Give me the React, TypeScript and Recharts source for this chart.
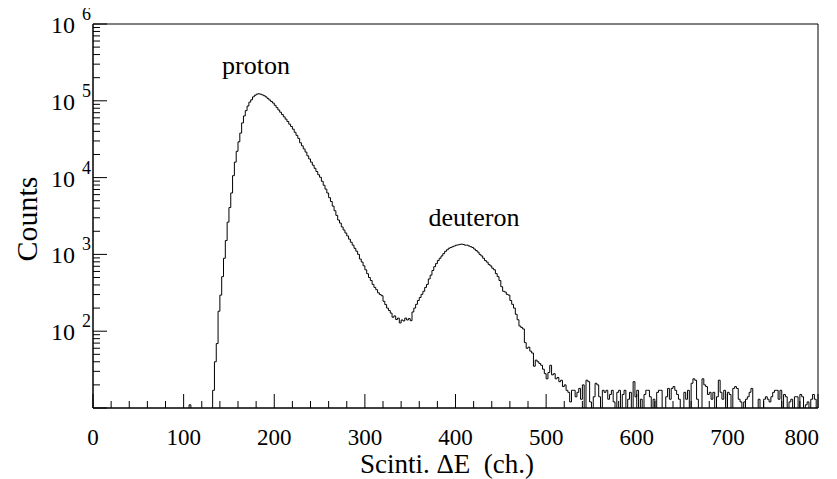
import { LineChart, Line, XAxis, YAxis, ReferenceArea } from "recharts";

const FONT = "'Liberation Serif', 'DejaVu Serif', 'Times New Roman', serif";

// histogram counts, 2 channels per bin; each list starts at its own channel
const BIN_WIDTH = 2;

const belowProtonStart = 100;
const belowProton = [0, 0, 0, 11, 0, 0, 0, 0, 0, 0, 0, 0, 0, 0, 0, 0];

const protonRiseStart = 132;
const protonRise = [
  17, 40, 69, 182, 295, 513, 891, 1514, 2630, 4074,
  6310, 10600, 15900, 22000, 29200, 38000, 51500, 63500, 74500, 85500,
  96000, 103000, 112500, 118000, 122000,
];

const protonFallStart = 182;
const protonFall = [
  123500, 122000, 119500, 116500, 112500, 107500, 102500, 98000, 93500, 87300,
  81500, 76000, 71000, 66200, 61800, 57700, 53800, 49600, 46300, 42700,
  38900, 35500, 32400, 28400, 25900, 23600, 21500, 19200, 17500, 15900,
  14500, 13200, 12000, 10900, 10100, 8950, 7950, 7080, 6300, 5480,
  4880, 4250, 3700, 3220, 2800, 2560, 2280, 2080, 1900, 1740,
  1580, 1440, 1320, 1200, 1100,
];

const valleyStart = 292;
const valley = [
  1000, 870, 795, 710, 630, 560, 500, 457, 407, 372,
  347, 316, 300, 290, 245, 222, 200, 186, 172, 152,
  158, 142, 148, 128, 140, 136, 148, 140, 146, 137,
];

const deuteronStart = 352;
const deuteron = [
  178, 200, 224, 251, 275, 302, 331, 372, 407, 479,
  537, 617, 692, 759, 832, 891, 955, 1023, 1096, 1148,
  1202, 1230, 1259, 1288, 1318, 1330, 1350, 1360, 1345, 1318,
  1320, 1288, 1259, 1230, 1175, 1122, 1072, 1000, 955, 891,
  832, 794, 741, 708, 661, 631, 562, 513, 457, 380,
  331, 324, 302, 295, 251, 224, 200, 166, 141, 117,
  112, 107, 71,
];

const deuteronTailStart = 478;
const deuteronTail = [
  60, 62, 55, 52, 35, 42, 40, 38, 36, 32,
  28, 24, 29, 36, 27, 28, 24, 25, 22, 23,
  19, 20, 17, 16, 12, 17, 17, 14, 16, 18,
  13, 20, 0, 23, 22, 12, 0, 14, 21, 20,
  14, 0, 17, 16, 17, 13, 15, 17, 12, 0,
];

const backgroundStart = 578;
const background = [
  16, 17, 0, 15, 17, 0, 13, 16, 0, 22,
  14, 17, 0, 13, 0, 15, 17, 17, 14, 0,
  13, 0, 16, 17, 17, 0, 0, 14, 18, 13,
  18, 19, 17, 15, 13, 0, 0, 16, 13, 17,
  0, 21, 24, 23, 13, 0, 0, 24, 20, 19,
  15, 16, 13, 16, 0, 14, 23, 16, 13, 17,
  0, 16, 15, 0, 18, 19, 18, 13, 12, 0,
  12, 13, 14, 16, 18, 0, 0, 0, 13, 0,
  0, 13, 14, 13, 12, 14, 16, 17, 17, 13,
  17, 0, 15, 14, 0, 12, 13, 0, 14, 14,
  0, 15, 14, 0, 11, 12, 0, 13, 15, 13, 0,
];

const X_END = 800;
const xTicks = [
  0, 20, 40, 60, 80, 100, 120, 140, 160, 180, 200, 220, 240, 260, 280, 300,
  320, 340, 360, 380, 400, 420, 440, 460, 480, 500, 520, 540, 560, 580, 600,
  620, 640, 660, 680, 700, 720, 740, 760, 780, 800,
];
const yDecades = [10, 100, 1000, 10000, 100000, 1000000];
const yMinorSteps = [2, 3, 4, 5, 6, 7, 8, 9];

const segments = [
  { start: belowProtonStart, counts: belowProton },
  { start: protonRiseStart, counts: protonRise },
  { start: protonFallStart, counts: protonFall },
  { start: valleyStart, counts: valley },
  { start: deuteronStart, counts: deuteron },
  { start: deuteronTailStart, counts: deuteronTail },
  { start: backgroundStart, counts: background },
];

// empty bins sit below the log floor and get clipped at the axis
const data = segments.flatMap((seg) =>
  seg.counts.map((c, i) => ({ ch: seg.start + i * BIN_WIDTH, counts: c > 0 ? c : 1 }))
);
data.push({ ch: X_END, counts: data[data.length - 1].counts });

const yTicks: number[] = [];
yDecades.forEach((d, i) => {
  yTicks.push(d);
  if (i < yDecades.length - 1) yMinorSteps.forEach((m) => yTicks.push(d * m));
});

function XTick(props: any) {
  const { x, y, payload } = props;
  const v = payload.value;
  const major = v % 100 === 0;
  const last = v === X_END;
  return (
    <g>
      <line x1={x} x2={x} y1={y} y2={y - (major ? 14 : 7)} stroke="#000" />
      {major && (
        <text
          x={last ? x + 1 : x}
          y={y + 37}
          textAnchor={last ? "end" : "middle"}
          fontFamily={FONT}
          fontSize={23}
          fill="#000"
        >
          {v}
        </text>
      )}
    </g>
  );
}

function YTick(props: any) {
  const { x, y, payload } = props;
  const v = payload.value;
  const major = yDecades.includes(v);
  const exp = Math.round(Math.log10(v));
  return (
    <g>
      <line x1={x} x2={x + (major ? 14 : 7)} y1={y} y2={y} stroke="#000" />
      {major && exp > 1 && (
        <g fontFamily={FONT} fill="#000">
          <text x={x - 18} y={y + 9} textAnchor="end" fontSize={24}>10</text>
          <text x={x - 11} y={y - 4} textAnchor="start" fontSize={18}>{exp}</text>
        </g>
      )}
    </g>
  );
}

export default function App() {
  return (
    <div style={{ position: "relative", width: 837, height: 479, margin: "-8px 0 0 -8px" }}>
      <LineChart
        width={837}
        height={479}
        data={data}
        margin={{ top: 24, right: 19, left: 0, bottom: 0 }}
      >
        <XAxis
          dataKey="ch"
          type="number"
          domain={[0, X_END]}
          ticks={xTicks}
          interval={0}
          tickLine={false}
          tickSize={0}
          tickMargin={0}
          axisLine={{ stroke: "#000" }}
          tick={(p: any) => <XTick {...p} />}
          height={71}
          allowDataOverflow
        />
        <YAxis
          scale="log"
          domain={[10, 1000000]}
          ticks={yTicks}
          interval={0}
          tickLine={false}
          tickSize={0}
          tickMargin={0}
          axisLine={{ stroke: "#000" }}
          tick={(p: any) => <YTick {...p} />}
          width={93}
          allowDataOverflow
        />
        <ReferenceArea
          x1={0}
          x2={X_END}
          y1={10}
          y2={1000000}
          fill="none"
          stroke="#000"
          strokeWidth={1}
        />
        <Line
          dataKey="counts"
          type="stepAfter"
          stroke="#000"
          strokeWidth={1}
          dot={false}
          isAnimationActive={false}
        />
      </LineChart>
      <svg
        width={837}
        height={479}
        style={{ position: "absolute", left: 0, top: 0, pointerEvents: "none" }}
        fontFamily={FONT}
        fill="#000"
      >
        <text x={256} y={74} textAnchor="middle" fontSize={26}>proton</text>
        <text x={474} y={226} textAnchor="middle" fontSize={26}>deuteron</text>
        <text x={447} y={473} textAnchor="middle" fontSize={27}>
          {"Scinti. ΔE\u00a0\u00a0(ch.)"}
        </text>
        <text
          x={0}
          y={0}
          transform="translate(37 219) rotate(-90)"
          textAnchor="middle"
          fontSize={30}
        >
          Counts
        </text>
      </svg>
    </div>
  );
}
